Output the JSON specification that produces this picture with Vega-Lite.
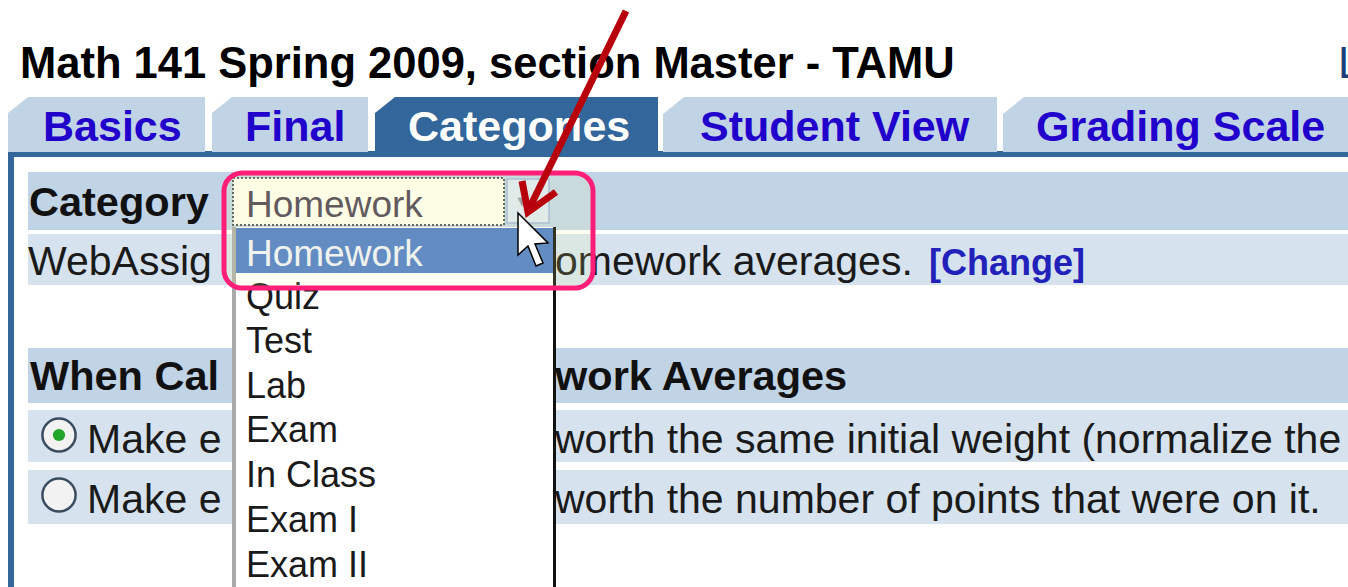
{
  "$schema": "https://vega.github.io/schema/vega-lite/v6.json",
  "width": 1348,
  "height": 587,
  "padding": 0,
  "autosize": {"type": "none"},
  "background": "white",
  "config": {"view": {"stroke": null}, "text": {"font": "Liberation Sans"}},
  "resolve": {"scale": {"color": "independent"}},
  "layer": [
    {
      "data": {"values": [
        {"kind": "panel", "x": 8, "x2": 1348, "y": 151, "y2": 157},
        {"kind": "panel", "x": 8, "x2": 14, "y": 151, "y2": 587},
        {"kind": "header", "x": 28, "x2": 1348, "y": 172, "y2": 230},
        {"kind": "row", "x": 28, "x2": 1348, "y": 234, "y2": 285},
        {"kind": "header", "x": 28, "x2": 1348, "y": 348, "y2": 403},
        {"kind": "row", "x": 28, "x2": 1348, "y": 410, "y2": 462},
        {"kind": "row", "x": 28, "x2": 1348, "y": 470, "y2": 524}
      ]},
      "mark": {"type": "rect"},
      "encoding": {
        "x": {"field": "x", "type": "quantitative", "scale": {"domain": [0, 1348], "nice": false, "zero": false}, "axis": null},
        "x2": {"field": "x2"},
        "y": {"field": "y", "type": "quantitative", "scale": {"domain": [0, 587], "nice": false, "zero": false, "reverse": true}, "axis": null},
        "y2": {"field": "y2"},
        "color": {"field": "kind", "type": "nominal", "legend": null,
          "scale": {"domain": ["panel", "header", "row"], "range": ["#33669a", "#c1d4e6", "#d6e3ee"]}}
      }
    },
    {
      "data": {"values": [
        {"tab": "Basics", "state": "inactive", "x": 8, "y": 113, "y2": 152},
        {"tab": "Basics", "state": "inactive", "x": 28, "y": 97, "y2": 152},
        {"tab": "Basics", "state": "inactive", "x": 205, "y": 97, "y2": 152},
        {"tab": "Final", "state": "inactive", "x": 212, "y": 113, "y2": 152},
        {"tab": "Final", "state": "inactive", "x": 232, "y": 97, "y2": 152},
        {"tab": "Final", "state": "inactive", "x": 368, "y": 97, "y2": 152},
        {"tab": "Categories", "state": "active", "x": 375, "y": 113, "y2": 157},
        {"tab": "Categories", "state": "active", "x": 395, "y": 97, "y2": 157},
        {"tab": "Categories", "state": "active", "x": 658, "y": 97, "y2": 157},
        {"tab": "Student View", "state": "inactive", "x": 663, "y": 114, "y2": 152},
        {"tab": "Student View", "state": "inactive", "x": 684, "y": 97, "y2": 152},
        {"tab": "Student View", "state": "inactive", "x": 997, "y": 97, "y2": 152},
        {"tab": "Grading Scale", "state": "inactive", "x": 1003, "y": 114, "y2": 152},
        {"tab": "Grading Scale", "state": "inactive", "x": 1024, "y": 97, "y2": 152},
        {"tab": "Grading Scale", "state": "inactive", "x": 1348, "y": 97, "y2": 152}
      ]},
      "mark": {"type": "area", "interpolate": "linear", "opacity": 1},
      "encoding": {
        "x": {"field": "x", "type": "quantitative"},
        "y": {"field": "y", "type": "quantitative"},
        "y2": {"field": "y2"},
        "detail": {"field": "tab"},
        "color": {"field": "state", "type": "nominal", "legend": null,
          "scale": {"domain": ["inactive", "active"], "range": ["#c1d4e6", "#33669a"]}}
      }
    },
    {
      "data": {"values": [
        {"x": 20, "y": 78, "label": "Math 141  Spring 2009, section Master - TAMU"}
      ]},
      "mark": {"type": "text", "align": "left", "baseline": "alphabetic", "fontSize": 43.5, "fontWeight": "bold", "color": "#000000"},
      "encoding": {
        "x": {"field": "x", "type": "quantitative"},
        "y": {"field": "y", "type": "quantitative"},
        "text": {"field": "label"}
      }
    },
    {
      "data": {"values": [
        {"x": 1338, "y": 78, "label": "L"}
      ]},
      "mark": {"type": "text", "align": "left", "baseline": "alphabetic", "fontSize": 43.5, "color": "#1a3f7a"},
      "encoding": {
        "x": {"field": "x", "type": "quantitative"},
        "y": {"field": "y", "type": "quantitative"},
        "text": {"field": "label"}
      }
    },
    {
      "data": {"values": [
        {"x": 43, "y": 141, "label": "Basics"},
        {"x": 245, "y": 141, "label": "Final"},
        {"x": 700, "y": 141, "label": "Student View"},
        {"x": 1036, "y": 141, "label": "Grading Scale"}
      ]},
      "mark": {"type": "text", "align": "left", "baseline": "alphabetic", "fontSize": 43, "fontWeight": "bold", "color": "#2200cc"},
      "encoding": {
        "x": {"field": "x", "type": "quantitative"},
        "y": {"field": "y", "type": "quantitative"},
        "text": {"field": "label"}
      }
    },
    {
      "data": {"values": [
        {"x": 408, "y": 141, "label": "Categories"}
      ]},
      "mark": {"type": "text", "align": "left", "baseline": "alphabetic", "fontSize": 43, "fontWeight": "bold", "color": "#ffffff"},
      "encoding": {
        "x": {"field": "x", "type": "quantitative"},
        "y": {"field": "y", "type": "quantitative"},
        "text": {"field": "label"}
      }
    },
    {
      "data": {"values": [
        {"x": 29, "y": 216, "label": "Category"},
        {"x": 30, "y": 390, "label": "When Cal"},
        {"x": 555, "y": 390, "label": "work Averages"}
      ]},
      "mark": {"type": "text", "align": "left", "baseline": "alphabetic", "fontSize": 41.5, "fontWeight": "bold", "color": "#111111"},
      "encoding": {
        "x": {"field": "x", "type": "quantitative"},
        "y": {"field": "y", "type": "quantitative"},
        "text": {"field": "label"}
      }
    },
    {
      "data": {"values": [
        {"x": 28, "y": 275, "label": "WebAssig"},
        {"x": 555, "y": 275, "label": "omework averages."},
        {"x": 87, "y": 453, "label": "Make e"},
        {"x": 555, "y": 453, "label": "worth the same initial weight (normalize the"},
        {"x": 87, "y": 513, "label": "Make e"},
        {"x": 555, "y": 513, "label": "worth the number of points that were on it."}
      ]},
      "mark": {"type": "text", "align": "left", "baseline": "alphabetic", "fontSize": 41, "color": "#1a1a1a"},
      "encoding": {
        "x": {"field": "x", "type": "quantitative"},
        "y": {"field": "y", "type": "quantitative"},
        "text": {"field": "label"}
      }
    },
    {
      "data": {"values": [
        {"x": 929, "y": 275, "label": "[Change]"}
      ]},
      "mark": {"type": "text", "align": "left", "baseline": "alphabetic", "fontSize": 36, "fontWeight": "bold", "color": "#2222bb"},
      "encoding": {
        "x": {"field": "x", "type": "quantitative"},
        "y": {"field": "y", "type": "quantitative"},
        "text": {"field": "label"}
      }
    },
    {
      "data": {"values": [
        {"x": 59, "y": 435},
        {"x": 59, "y": 495}
      ]},
      "mark": {"type": "point", "shape": "circle", "size": 1100, "filled": true, "fill": "#f2f2f2", "stroke": "#3a4d60", "strokeWidth": 2.5, "opacity": 1},
      "encoding": {
        "x": {"field": "x", "type": "quantitative"},
        "y": {"field": "y", "type": "quantitative"}
      }
    },
    {
      "data": {"values": [
        {"x": 59, "y": 435}
      ]},
      "mark": {"type": "point", "shape": "circle", "size": 150, "filled": true, "fill": "#22a52a", "opacity": 1},
      "encoding": {
        "x": {"field": "x", "type": "quantitative"},
        "y": {"field": "y", "type": "quantitative"}
      }
    },
    {
      "data": {"values": [
        {"kind": "listbg", "x": 233, "x2": 555, "y": 227, "y2": 587},
        {"kind": "listleft", "x": 232, "x2": 236, "y": 227, "y2": 587},
        {"kind": "listright", "x": 553, "x2": 556, "y": 227, "y2": 587},
        {"kind": "highlight", "x": 236, "x2": 553, "y": 228, "y2": 273},
        {"kind": "selectbg", "x": 233, "x2": 504, "y": 178, "y2": 225},
        {"kind": "button", "x": 507, "x2": 549, "y": 179, "y2": 223}
      ]},
      "mark": {"type": "rect"},
      "encoding": {
        "x": {"field": "x", "type": "quantitative"},
        "x2": {"field": "x2"},
        "y": {"field": "y", "type": "quantitative"},
        "y2": {"field": "y2"},
        "color": {"field": "kind", "type": "nominal", "legend": null,
          "scale": {"domain": ["listbg", "listleft", "listright", "highlight", "selectbg", "button"],
                    "range": ["#ffffff", "#a9a9a9", "#111111", "#4a7bc8", "#fdfdf0", "#dbe7f5"]}}
      }
    },
    {
      "data": {"values": [
        {"x": 233, "x2": 504, "y": 178, "y2": 225}
      ]},
      "mark": {"type": "rect", "fill": null, "fillOpacity": 0, "stroke": "#222222", "strokeWidth": 1.5, "strokeDash": [2, 2]},
      "encoding": {
        "x": {"field": "x", "type": "quantitative"},
        "x2": {"field": "x2"},
        "y": {"field": "y", "type": "quantitative"},
        "y2": {"field": "y2"}
      }
    },
    {
      "data": {"values": [
        {"x": 507, "x2": 549, "y": 179, "y2": 223}
      ]},
      "mark": {"type": "rect", "fill": null, "fillOpacity": 0, "stroke": "#9db4d8", "strokeWidth": 1.5},
      "encoding": {
        "x": {"field": "x", "type": "quantitative"},
        "x2": {"field": "x2"},
        "y": {"field": "y", "type": "quantitative"},
        "y2": {"field": "y2"}
      }
    },
    {
      "data": {"values": [
        {"x": 522, "y": 207, "label": "▾"}
      ]},
      "mark": {"type": "text", "align": "center", "baseline": "alphabetic", "fontSize": 18, "color": "#8a97a8", "font": "DejaVu Sans"},
      "encoding": {
        "x": {"field": "x", "type": "quantitative"},
        "y": {"field": "y", "type": "quantitative"},
        "text": {"field": "label"}
      }
    },
    {
      "data": {"values": [
        {"x": 246, "y": 309, "label": "Quiz"},
        {"x": 246, "y": 353, "label": "Test"},
        {"x": 246, "y": 398, "label": "Lab"},
        {"x": 246, "y": 442, "label": "Exam"},
        {"x": 246, "y": 487, "label": "In Class"},
        {"x": 246, "y": 532, "label": "Exam I"},
        {"x": 246, "y": 577, "label": "Exam II"}
      ]},
      "mark": {"type": "text", "align": "left", "baseline": "alphabetic", "fontSize": 36, "color": "#1a1a1a"},
      "encoding": {
        "x": {"field": "x", "type": "quantitative"},
        "y": {"field": "y", "type": "quantitative"},
        "text": {"field": "label"}
      }
    },
    {
      "data": {"values": [
        {"x": 246, "y": 217, "label": "Homework"}
      ]},
      "mark": {"type": "text", "align": "left", "baseline": "alphabetic", "fontSize": 37, "color": "#4a3f55"},
      "encoding": {
        "x": {"field": "x", "type": "quantitative"},
        "y": {"field": "y", "type": "quantitative"},
        "text": {"field": "label"}
      }
    },
    {
      "data": {"values": [
        {"x": 246, "y": 266, "label": "Homework"}
      ]},
      "mark": {"type": "text", "align": "left", "baseline": "alphabetic", "fontSize": 37, "color": "#eef2fa"},
      "encoding": {
        "x": {"field": "x", "type": "quantitative"},
        "y": {"field": "y", "type": "quantitative"},
        "text": {"field": "label"}
      }
    },
    {
      "data": {"values": [
        {"x": 224, "x2": 593, "y": 173, "y2": 288}
      ]},
      "mark": {"type": "rect", "fill": "#ffffa0", "fillOpacity": 0.14, "stroke": "#ff1f78", "strokeWidth": 5, "cornerRadius": 18},
      "encoding": {
        "x": {"field": "x", "type": "quantitative"},
        "x2": {"field": "x2"},
        "y": {"field": "y", "type": "quantitative"},
        "y2": {"field": "y2"}
      }
    },
    {
      "data": {"values": [
        {"seg": "shaft", "o": 1, "x": 626, "y": 11},
        {"seg": "shaft", "o": 2, "x": 529, "y": 209},
        {"seg": "head", "o": 1, "x": 522, "y": 181},
        {"seg": "head", "o": 2, "x": 528, "y": 212},
        {"seg": "head", "o": 3, "x": 556, "y": 192}
      ]},
      "mark": {"type": "line", "color": "#b8000c", "strokeWidth": 7, "strokeCap": "butt", "strokeJoin": "miter"},
      "encoding": {
        "x": {"field": "x", "type": "quantitative"},
        "y": {"field": "y", "type": "quantitative"},
        "detail": {"field": "seg"},
        "order": {"field": "o", "type": "quantitative"}
      }
    },
    {
      "data": {"values": [
        {"x": 518, "y": 213}
      ]},
      "mark": {"type": "point", "shape": "M0,0 L0,42 L10,33 L18,53 L25,50 L17,31 L30,30 Z", "size": 4, "filled": true, "fill": "#ffffff", "stroke": "#000000", "strokeWidth": 1.5, "opacity": 1},
      "encoding": {
        "x": {"field": "x", "type": "quantitative"},
        "y": {"field": "y", "type": "quantitative"}
      }
    }
  ]
}
